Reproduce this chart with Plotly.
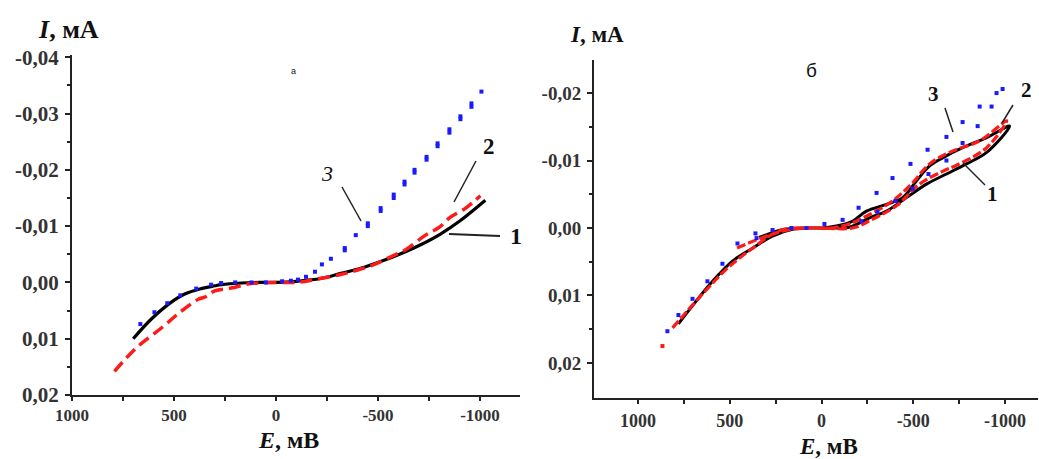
import plotly.graph_objects as go

# ---------------- data: panel a ----------------
a1_E = [700, 611, 528, 450, 367, 300, 269, 171, 80, 0, -100, -150, -220, -318, -415, -513, -611, -709, -806, -904, -1026]
a1_I = [0.0100, 0.0065, 0.0039, 0.0021, 0.0011, 0.0006, 0.0004, 0.0001, 0.0, 0.0, -0.0002, -0.0004, -0.0007, -0.0016, -0.0025, -0.0037, -0.0051, -0.0067, -0.0086, -0.0110, -0.0146]

a2_E = [792, 684, 562, 464, 381, 342, 300, 220, 122, 0, -100, -200, -318, -400, -489, -560, -635, -733, -800, -855, -930, -1002]
a2_I = [0.0158, 0.0116, 0.0081, 0.0051, 0.0030, 0.0025, 0.0015, 0.0010, 0.0002, 0.0, 0.0, -0.0006, -0.0014, -0.0022, -0.0033, -0.0045, -0.0058, -0.0084, -0.0098, -0.0116, -0.0132, -0.0154]

a3_E = [665, 596, 533, 469, 391, 318, 269, 200, 120, 50, -30, -73, -108, -147, -191, -225, -269, -337, -337, -391, -450, -450, -513, -513,
        -577, -577, -630, -630, -679, -679, -738, -738, -792, -792, -850, -850, -904, -904, -958, -958, -1007]
a3_I = [0.0074, 0.0053, 0.0037, 0.0023, 0.0011, 0.0004, 0.0001, 0.0, 0.0, 0.0, -0.0002, -0.0003, -0.0005, -0.0010, -0.0019, -0.0032, -0.0042, -0.0061, -0.0057,
        -0.0084, -0.0105, -0.0100, -0.0132, -0.0127, -0.0156, -0.0150, -0.0179, -0.0174, -0.0200, -0.0195, -0.0223, -0.0218,
        -0.0247, -0.0242, -0.0272, -0.0266, -0.0295, -0.0290, -0.0318, -0.0312, -0.0339]

# ---------------- data: panel б ----------------
b1_E = [780, 682, 594, 485, 376, 267, 158, 50, -50, -150, -262, -354, -463, -572, -681, -790, -900, -1025,
        -900, -769, -660, -589, -518, -442, -354, -245, -169, -80, 0, 100, 200, 280, 340]
b1_I = [0.0142, 0.0108, 0.0079, 0.0049, 0.0030, 0.0012, 0.0002, 0.0, 0.0, -0.0001, -0.0015, -0.0025, -0.0045, -0.0065, -0.0080, -0.0095, -0.0112, -0.0151,
        -0.0134, -0.0119, -0.0104, -0.0092, -0.0070, -0.0045, -0.0035, -0.0025, -0.0010, -0.0003, 0.0, 0.0, 0.0002, 0.0008, 0.0014]

b2_E = [812, 649, 518, 376, 229, 100, 0, -169, -278, -409, -534, -660, -736, -900, -1009,
        -862, -714, -589, -496, -387, -262, -150, -50, 100, 200, 300, 463]
b2_I = [0.0148, 0.0098, 0.0061, 0.0030, 0.0004, 0.0, 0.0, 0.0, -0.0013, -0.0033, -0.0065, -0.0084, -0.0093, -0.0119, -0.0159,
        -0.0129, -0.0114, -0.0095, -0.0067, -0.0040, -0.0020, -0.0006, 0.0, 0.0, 0.0004, 0.0012, 0.0030]
b2_start_E = [867]
b2_start_I = [0.0175]

b3_E = [840, 780, 703, 622, 540, 458, 360, 354, 267, 164, 82, -16, -115, -202, -218, -300, -305, -387, -403, -485, -496,
        -578, -583, -681, -681, -769, -769, -862, -851, -927, -954, -987]
b3_I = [0.0153, 0.0129, 0.0105, 0.0079, 0.0053, 0.0023, 0.0008, 0.0015, 0.0003, 0.0, 0.0, -0.0006, -0.0012, -0.0030, -0.0010,
        -0.0052, -0.0024, -0.0074, -0.0040, -0.0095, -0.0058, -0.0116, -0.0080, -0.0135, -0.0100, -0.0157, -0.0126,
        -0.0180, -0.0151, -0.0180, -0.0200, -0.0206]

# ---------------- tick labels ----------------
x_tickvals = [1000, 500, 0, -500, -1000]
x_ticktext = ["1000", "500", "0", "-500", "-1000"]
ya_tickvals = [-0.04, -0.03, -0.02, -0.01, 0.0, 0.01, 0.02]
ya_ticktext = ["-0,04", "-0,03", "-0,02", "-0,01", "0,00", "0,01", "0,02"]
yb_tickvals = [-0.02, -0.01, 0.0, 0.01, 0.02]
yb_ticktext = ["-0,02", "-0,01", "0,00", "0,01", "0,02"]

W, H = 1039, 459
def px(xp): return xp / W
def py(yp): return 1 - yp / H

def bold(lst): return ["<b>" + s + "</b>" for s in lst]

fig = go.Figure()

# panel a
fig.add_trace(go.Scatter(x=a1_E, y=a1_I, mode="lines", line=dict(color="black", width=3.2, shape="spline"),
                         xaxis="x", yaxis="y", showlegend=False))
fig.add_trace(go.Scatter(x=a2_E, y=a2_I, mode="lines", line=dict(color="#ff1a1a", width=3.5, dash="12px,6px", shape="spline"),
                         xaxis="x", yaxis="y", showlegend=False))
fig.add_trace(go.Scatter(x=a3_E, y=a3_I, mode="markers", marker=dict(color="#1a1aff", size=4, symbol="square"),
                         xaxis="x", yaxis="y", showlegend=False))

# panel b
fig.add_trace(go.Scatter(x=b1_E, y=b1_I, mode="lines", line=dict(color="black", width=3, shape="spline"),
                         xaxis="x2", yaxis="y2", showlegend=False))
fig.add_trace(go.Scatter(x=b2_E, y=b2_I, mode="lines", line=dict(color="#ff1a1a", width=3.2, dash="9px,3px", shape="spline"),
                         xaxis="x2", yaxis="y2", showlegend=False))
fig.add_trace(go.Scatter(x=b2_start_E, y=b2_start_I, mode="markers", marker=dict(color="#ff1a1a", size=4, symbol="square"),
                         xaxis="x2", yaxis="y2", showlegend=False))
fig.add_trace(go.Scatter(x=b3_E, y=b3_I, mode="markers", marker=dict(color="#1a1aff", size=4, symbol="square"),
                         xaxis="x2", yaxis="y2", showlegend=False))

def axis(size, **kw):
    d = dict(showline=True, linecolor="#222", linewidth=2, ticks="outside", ticklen=5, tickwidth=1.5,
             tickcolor="#222", showgrid=False, zeroline=False, automargin=False,
             tickfont=dict(family="Liberation Serif", size=size, color="#333"))
    d.update(kw)
    return d

minor_x = dict(dtick=250, ticks="outside", ticklen=4, tickwidth=1.5, tickcolor="#222")

fig.update_layout(
    width=W, height=H, margin=dict(l=0, r=0, t=0, b=0),
    paper_bgcolor="white", plot_bgcolor="white",
    xaxis=axis(17, domain=[px(72), px(520)], range=[1000, -1196], anchor="y", ticklen=4,
               tickvals=x_tickvals, ticktext=bold(x_ticktext), minor=minor_x, ticklabelstandoff=0),
    yaxis=axis(21, domain=[py(395), py(55)], range=[0.02, -0.0404], anchor="x",
               tickvals=ya_tickvals, ticktext=bold(ya_ticktext), ticklabelstandoff=2,
               minor=dict(tickvals=[-0.035, -0.025, -0.015, -0.005, 0.005, 0.015], ticks="outside", ticklen=3, tickwidth=1.5, tickcolor="#222")),
    xaxis2=axis(18, domain=[px(594), px(1038)], range=[1240, -1180], anchor="y2", ticklen=4,
                tickvals=x_tickvals, ticktext=bold(x_ticktext), minor=minor_x, ticklabelstandoff=1),
    yaxis2=axis(19, domain=[py(398), py(60)], range=[0.0252, -0.0249], anchor="x2",
                tickvals=yb_tickvals, ticktext=bold(yb_ticktext), ticklabelstandoff=2,
                minor=dict(tickvals=[-0.015, -0.005, 0.005, 0.015], ticks="outside", ticklen=3, tickwidth=1.5, tickcolor="#222")),
)

ann = []
def txt(x, y, t, size, family="Liberation Serif"):
    ann.append(dict(x=px(x), y=py(y), xref="paper", yref="paper", text=t, showarrow=False,
                    font=dict(family=family, size=size, color="#111"), xanchor="center", yanchor="middle"))

txt(68, 30, "<b><i>I</i>, мА</b>", 26)
txt(288, 440, "<b><i>E</i>, мВ</b>", 24)
txt(597, 34, "<b><i>I</i>, мА</b>", 23)
txt(828, 446, "<b><i>E</i>, мВ</b>", 23)
txt(293, 71, "а", 9, family="Liberation Sans")
txt(811, 70, "б", 19, family="Liberation Sans")
# curve labels panel a
txt(327, 173, "<i>3</i>", 22)
txt(489, 146, "<b>2</b>", 23)
txt(516, 236, "<b>1</b>", 24)
# curve labels panel b
txt(933, 94, "<b>3</b>", 21)
txt(1026, 90, "<b>2</b>", 21)
txt(992, 194, "<b>1</b>", 21)
fig.update_layout(annotations=ann)

def seg(x0, y0, x1, y1, w=1.5):
    return dict(type="line", xref="paper", yref="paper", x0=px(x0), y0=py(y0), x1=px(x1), y1=py(y1),
                line=dict(color="#222", width=w))

fig.update_layout(shapes=[
    seg(342, 187, 361, 221),
    seg(476, 161, 454, 202),
    seg(449, 234, 500, 236, 2),
    seg(945, 108, 953, 132),
    seg(1013, 105, 1002, 123),
    seg(985, 185, 963, 163),
])

fig.write_html("out.html", config={"displayModeBar": False},
               post_script="document.body.style.margin='0px'; document.body.style.overflow='hidden';")
